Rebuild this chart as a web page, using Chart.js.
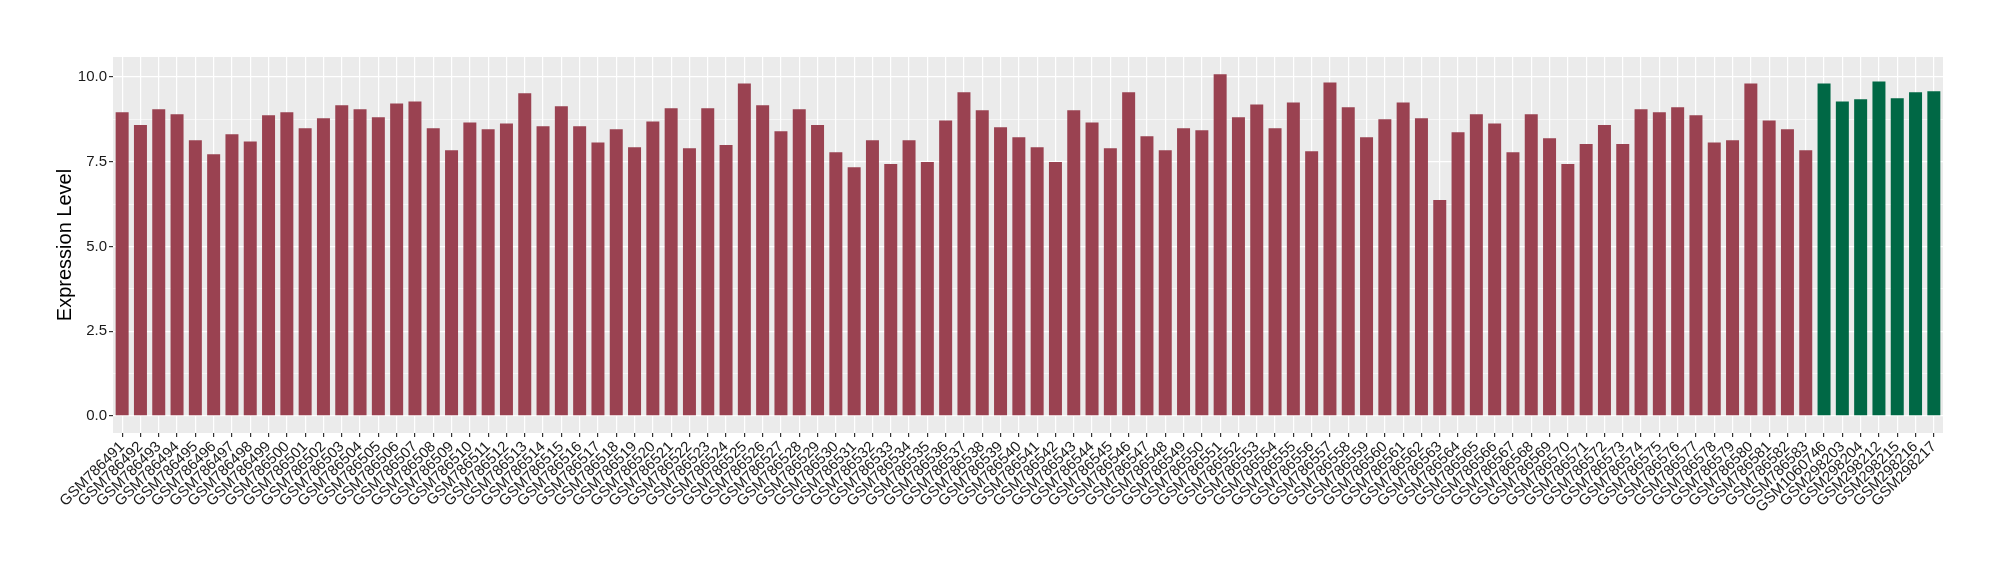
<!DOCTYPE html>
<html>
<head>
<meta charset="utf-8">
<script src="https://cdn.jsdelivr.net/npm/chart.js@4/dist/chart.umd.min.js"></script>
<style>
  html, body { margin: 0; padding: 0; background: #fff; }
  #wrap { width: 2000px; height: 580px; }
</style>
</head>
<body>
<div id="wrap"><canvas id="myChart" width="2000" height="580"></canvas></div>
<script>
// first group (red)
var groupA = ['GSM786491','GSM786492','GSM786493','GSM786494','GSM786495','GSM786496','GSM786497','GSM786498','GSM786499','GSM786500',
  'GSM786501','GSM786502','GSM786503','GSM786504','GSM786505','GSM786506','GSM786507','GSM786508','GSM786509','GSM786510',
  'GSM786511','GSM786512','GSM786513','GSM786514','GSM786515','GSM786516','GSM786517','GSM786518','GSM786519','GSM786520',
  'GSM786521','GSM786522','GSM786523','GSM786524','GSM786525','GSM786526','GSM786527','GSM786528','GSM786529','GSM786530',
  'GSM786531','GSM786532','GSM786533','GSM786534','GSM786535','GSM786536','GSM786537','GSM786538','GSM786539','GSM786540',
  'GSM786541','GSM786542','GSM786543','GSM786544','GSM786545','GSM786546','GSM786547','GSM786548','GSM786549','GSM786550',
  'GSM786551','GSM786552','GSM786553','GSM786554','GSM786555','GSM786556','GSM786557','GSM786558','GSM786559','GSM786560',
  'GSM786561','GSM786562','GSM786563','GSM786564','GSM786565','GSM786566','GSM786567','GSM786568','GSM786569','GSM786570',
  'GSM786571','GSM786572','GSM786573','GSM786574','GSM786575','GSM786576','GSM786577','GSM786578','GSM786579','GSM786580',
  'GSM786581','GSM786582','GSM786583'];
var valuesA = [8.96,8.58,9.05,8.90,8.13,7.72,8.31,8.10,8.87,8.96,
  8.49,8.78,9.17,9.05,8.81,9.22,9.28,8.49,7.84,8.66,
  8.46,8.63,9.52,8.55,9.14,8.55,8.07,8.46,7.93,8.69,
  9.08,7.90,9.08,7.99,9.81,9.17,8.40,9.05,8.58,7.78,
  7.34,8.13,7.43,8.13,7.49,8.72,9.55,9.02,8.52,8.22,
  7.93,7.49,9.02,8.66,7.90,9.55,8.25,7.84,8.49,8.43,
  10.08,8.81,9.19,8.49,9.25,7.81,9.84,9.11,8.22,8.75,
  9.25,8.78,6.37,8.37,8.90,8.63,7.78,8.90,8.19,7.43,
  8.02,8.58,8.02,9.05,8.96,9.11,8.87,8.07,8.13,9.81,
  8.72,8.46,7.84];

// second group (green)
var groupB = ['GSM1060746','GSM298203','GSM298204','GSM298212','GSM298215','GSM298216','GSM298217'];
var valuesB = [9.81,9.28,9.34,9.87,9.37,9.55,9.58];

var yTicks = [0, 2.5, 5, 7.5, 10];
var colorA = '#9A4251';
var colorB = '#006845';

var labels = groupA.concat(groupB);
var values = valuesA.concat(valuesB);
var colors = groupA.map(function () { return colorA; }).concat(groupB.map(function () { return colorB; }));

var FONT = '"Liberation Sans", Arial, Helvetica, sans-serif';

var panelBg = {
  id: 'panelBg',
  beforeDraw: function (chart) {
    var a = chart.chartArea, c = chart.ctx;
    c.save();
    c.fillStyle = '#EBEBEB';
    c.fillRect(a.left, a.top, a.right - a.left, a.bottom - a.top);
    c.restore();
  }
};

var ctx = document.getElementById('myChart').getContext('2d');
var myChart = new Chart(ctx, {
  type: 'bar',
  data: {
    labels: labels,
    datasets: [{
      data: values,
      backgroundColor: colors,
      borderWidth: 0,
      barPercentage: 0.71,
      categoryPercentage: 1.0
    }]
  },
  plugins: [panelBg],
  options: {
    responsive: false,
    animation: false,
    layout: { padding: { left: 0, right: 57, top: 57, bottom: 0 } },
    plugins: {
      legend: { display: false },
      tooltip: { enabled: false }
    },
    scales: {
      x: {
        offset: true,
        border: { display: false },
        grid: {
          offset: false,
          color: '#FFFFFF',
          lineWidth: 1.2,
          tickColor: '#333333',
          tickLength: 4
        },
        ticks: {
          autoSkip: false,
          minRotation: 45,
          maxRotation: 45,
          padding: 1,
          color: '#1A1A1A',
          font: { family: FONT, size: 15 }
        },
        afterFit: function (scale) { scale.height = 147; }
      },
      y: {
        min: -0.504,
        max: 10.59,
        border: { display: false },
        afterBuildTicks: function (scale) {
          var t = [];
          for (var i = 0; i <= 8; i++) t.push({ value: i * 1.25 });
          scale.ticks = t;
        },
        grid: {
          color: '#FFFFFF',
          lineWidth: function (c) { return yTicks.indexOf(c.tick.value) >= 0 ? 1.2 : 0.6; },
          tickColor: function (c) { return yTicks.indexOf(c.tick.value) >= 0 ? '#333333' : 'rgba(0,0,0,0)'; },
          tickLength: 4
        },
        ticks: {
          padding: 2,
          color: '#1A1A1A',
          font: { family: FONT, size: 15 },
          callback: function (v) { return yTicks.indexOf(v) >= 0 ? v.toFixed(1) : ''; }
        },
        title: {
          display: true,
          text: 'Expression Level',
          color: '#000000',
          font: { family: FONT, size: 20 },
          padding: { top: 53, bottom: 0 }
        },
        afterFit: function (scale) { scale.width = 113; }
      }
    }
  }
});
</script>
</body>
</html>
